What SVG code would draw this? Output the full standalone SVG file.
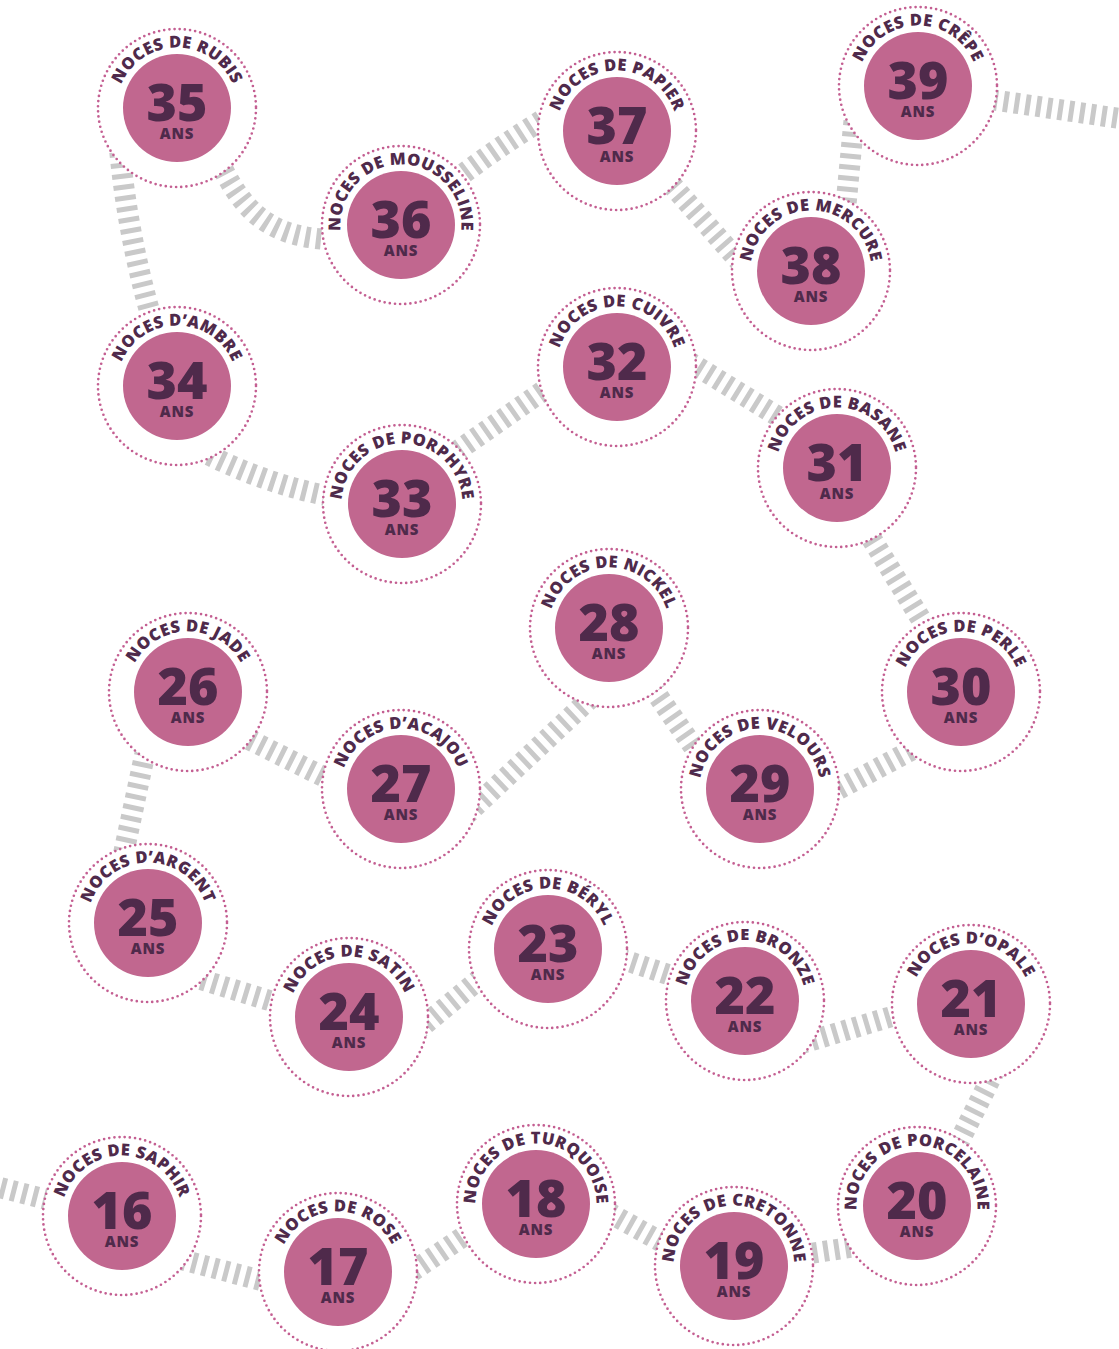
<svg xmlns="http://www.w3.org/2000/svg" width="1119" height="1349" viewBox="0 0 1119 1349">
<style>
.conn path{fill:none;stroke:#c9c9c9;stroke-width:21;stroke-dasharray:5 6}
.ring{fill:#fff;stroke:#c45f92;stroke-width:2.7;stroke-dasharray:0 5.2;stroke-linecap:round}
.disc{fill:#c1678f}
text{font-family:"Open Sans","Liberation Sans",sans-serif;font-weight:800;fill:#4f2a4b}
.lbl{font-size:16.5px;letter-spacing:0.4px}
.num{font-size:52px;text-anchor:middle}
.ans{font-size:15px;text-anchor:middle;letter-spacing:0.8px}
</style>
<defs>
<path id="arc" d="M0,60.5 A60.5,60.5 0 1 1 0,-60.5 A60.5,60.5 0 1 1 0,60.5"/>
</defs>
<rect width="1119" height="1349" fill="#fff"/>
<g class="conn" id="connectors">
<path d="M-10,1185 L80,1208"/>
<path d="M160,1254 L290,1288"/>
<path d="M385,1290 L495,1215"/>
<path d="M590,1202 L690,1258"/>
<path d="M780,1258 L880,1243"/>
<path d="M1000,1060 L955,1150"/>
<path d="M780,1050 L930,1005"/>
<path d="M600,952 L700,985"/>
<path d="M400,1045 L505,958"/>
<path d="M170,970 L300,1010"/>
<path d="M150,730 L120,870"/>
<path d="M220,725 L350,790"/>
<path d="M450,830 L610,680"/>
<path d="M640,670 L720,785"/>
<path d="M800,810 L940,735"/>
<path d="M860,520 L940,650"/>
<path d="M670,350 L800,430"/>
<path d="M430,470 L570,372"/>
<path d="M180,440 Q260,485 340,498"/>
<path d="M118,130 Q125,230 155,330"/>
<path d="M210,140 C240,215 270,240 345,240"/>
<path d="M430,200 Q490,150 575,100"/>
<path d="M650,160 L760,285"/>
<path d="M855,110 L845,215"/>
<path d="M960,95 L1130,120"/>
</g>
<g id="n16" transform="translate(122,1216)"><circle class="ring" r="79"/><circle class="disc" r="54"/><text class="lbl"><textPath href="#arc" startOffset="50%" text-anchor="middle">NOCES DE SAPHIR</textPath></text><text class="num" y="13">16</text><text class="ans" y="31">ANS</text></g>
<g id="n17" transform="translate(338,1272)"><circle class="ring" r="79"/><circle class="disc" r="54"/><text class="lbl"><textPath href="#arc" startOffset="50%" text-anchor="middle">NOCES DE ROSE</textPath></text><text class="num" y="13">17</text><text class="ans" y="31">ANS</text></g>
<g id="n18" transform="translate(536,1204)"><circle class="ring" r="79"/><circle class="disc" r="54"/><text class="lbl"><textPath href="#arc" startOffset="50%" text-anchor="middle">NOCES DE TURQUOISE</textPath></text><text class="num" y="13">18</text><text class="ans" y="31">ANS</text></g>
<g id="n19" transform="translate(734,1266)"><circle class="ring" r="79"/><circle class="disc" r="54"/><text class="lbl"><textPath href="#arc" startOffset="50%" text-anchor="middle">NOCES DE CRETONNE</textPath></text><text class="num" y="13">19</text><text class="ans" y="31">ANS</text></g>
<g id="n20" transform="translate(917,1206)"><circle class="ring" r="79"/><circle class="disc" r="54"/><text class="lbl"><textPath href="#arc" startOffset="50%" text-anchor="middle">NOCES DE PORCELAINE</textPath></text><text class="num" y="13">20</text><text class="ans" y="31">ANS</text></g>
<g id="n21" transform="translate(971,1004)"><circle class="ring" r="79"/><circle class="disc" r="54"/><text class="lbl"><textPath href="#arc" startOffset="50%" text-anchor="middle">NOCES D’OPALE</textPath></text><text class="num" y="13">21</text><text class="ans" y="31">ANS</text></g>
<g id="n22" transform="translate(745,1001)"><circle class="ring" r="79"/><circle class="disc" r="54"/><text class="lbl"><textPath href="#arc" startOffset="50%" text-anchor="middle">NOCES DE BRONZE</textPath></text><text class="num" y="13">22</text><text class="ans" y="31">ANS</text></g>
<g id="n23" transform="translate(548,949)"><circle class="ring" r="79"/><circle class="disc" r="54"/><text class="lbl"><textPath href="#arc" startOffset="50%" text-anchor="middle">NOCES DE BÉRYL</textPath></text><text class="num" y="13">23</text><text class="ans" y="31">ANS</text></g>
<g id="n24" transform="translate(349,1017)"><circle class="ring" r="79"/><circle class="disc" r="54"/><text class="lbl"><textPath href="#arc" startOffset="50%" text-anchor="middle">NOCES DE SATIN</textPath></text><text class="num" y="13">24</text><text class="ans" y="31">ANS</text></g>
<g id="n25" transform="translate(148,923)"><circle class="ring" r="79"/><circle class="disc" r="54"/><text class="lbl"><textPath href="#arc" startOffset="50%" text-anchor="middle">NOCES D’ARGENT</textPath></text><text class="num" y="13">25</text><text class="ans" y="31">ANS</text></g>
<g id="n26" transform="translate(188,692)"><circle class="ring" r="79"/><circle class="disc" r="54"/><text class="lbl"><textPath href="#arc" startOffset="50%" text-anchor="middle">NOCES DE JADE</textPath></text><text class="num" y="13">26</text><text class="ans" y="31">ANS</text></g>
<g id="n27" transform="translate(401,789)"><circle class="ring" r="79"/><circle class="disc" r="54"/><text class="lbl"><textPath href="#arc" startOffset="50%" text-anchor="middle">NOCES D’ACAJOU</textPath></text><text class="num" y="13">27</text><text class="ans" y="31">ANS</text></g>
<g id="n28" transform="translate(609,628)"><circle class="ring" r="79"/><circle class="disc" r="54"/><text class="lbl"><textPath href="#arc" startOffset="50%" text-anchor="middle">NOCES DE NICKEL</textPath></text><text class="num" y="13">28</text><text class="ans" y="31">ANS</text></g>
<g id="n29" transform="translate(760,789)"><circle class="ring" r="79"/><circle class="disc" r="54"/><text class="lbl"><textPath href="#arc" startOffset="50%" text-anchor="middle">NOCES DE VELOURS</textPath></text><text class="num" y="13">29</text><text class="ans" y="31">ANS</text></g>
<g id="n30" transform="translate(961,692)"><circle class="ring" r="79"/><circle class="disc" r="54"/><text class="lbl"><textPath href="#arc" startOffset="50%" text-anchor="middle">NOCES DE PERLE</textPath></text><text class="num" y="13">30</text><text class="ans" y="31">ANS</text></g>
<g id="n31" transform="translate(837,468)"><circle class="ring" r="79"/><circle class="disc" r="54"/><text class="lbl"><textPath href="#arc" startOffset="50%" text-anchor="middle">NOCES DE BASANE</textPath></text><text class="num" y="13">31</text><text class="ans" y="31">ANS</text></g>
<g id="n32" transform="translate(617,367)"><circle class="ring" r="79"/><circle class="disc" r="54"/><text class="lbl"><textPath href="#arc" startOffset="50%" text-anchor="middle">NOCES DE CUIVRE</textPath></text><text class="num" y="13">32</text><text class="ans" y="31">ANS</text></g>
<g id="n33" transform="translate(402,504)"><circle class="ring" r="79"/><circle class="disc" r="54"/><text class="lbl"><textPath href="#arc" startOffset="50%" text-anchor="middle">NOCES DE PORPHYRE</textPath></text><text class="num" y="13">33</text><text class="ans" y="31">ANS</text></g>
<g id="n34" transform="translate(177,386)"><circle class="ring" r="79"/><circle class="disc" r="54"/><text class="lbl"><textPath href="#arc" startOffset="50%" text-anchor="middle">NOCES D’AMBRE</textPath></text><text class="num" y="13">34</text><text class="ans" y="31">ANS</text></g>
<g id="n35" transform="translate(177,108)"><circle class="ring" r="79"/><circle class="disc" r="54"/><text class="lbl"><textPath href="#arc" startOffset="50%" text-anchor="middle">NOCES DE RUBIS</textPath></text><text class="num" y="13">35</text><text class="ans" y="31">ANS</text></g>
<g id="n36" transform="translate(401,225)"><circle class="ring" r="79"/><circle class="disc" r="54"/><text class="lbl"><textPath href="#arc" startOffset="50%" text-anchor="middle">NOCES DE MOUSSELINE</textPath></text><text class="num" y="13">36</text><text class="ans" y="31">ANS</text></g>
<g id="n37" transform="translate(617,131)"><circle class="ring" r="79"/><circle class="disc" r="54"/><text class="lbl"><textPath href="#arc" startOffset="50%" text-anchor="middle">NOCES DE PAPIER</textPath></text><text class="num" y="13">37</text><text class="ans" y="31">ANS</text></g>
<g id="n38" transform="translate(811,271)"><circle class="ring" r="79"/><circle class="disc" r="54"/><text class="lbl"><textPath href="#arc" startOffset="50%" text-anchor="middle">NOCES DE MERCURE</textPath></text><text class="num" y="13">38</text><text class="ans" y="31">ANS</text></g>
<g id="n39" transform="translate(918,86)"><circle class="ring" r="79"/><circle class="disc" r="54"/><text class="lbl"><textPath href="#arc" startOffset="50%" text-anchor="middle">NOCES DE CRÊPE</textPath></text><text class="num" y="13">39</text><text class="ans" y="31">ANS</text></g>
</svg>
